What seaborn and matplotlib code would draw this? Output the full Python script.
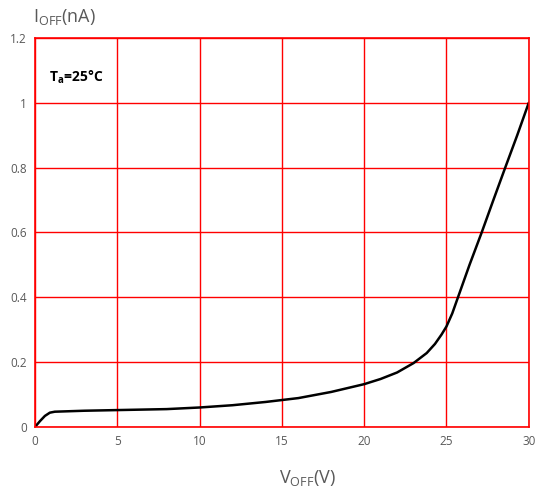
import numpy as np
import pandas as pd
import seaborn as sns
import matplotlib
matplotlib.use("Agg")
import matplotlib.pyplot as plt

# curve
v_off = [0, 0.3, 0.6, 0.9, 1.2, 3, 5, 8, 10, 12, 14, 16, 18, 20, 21, 22, 23,
         23.8, 24.3, 24.7, 25, 25.35, 25.7, 26.4, 27.14, 27.85, 28.57, 29.3, 30]
i_off = [0, 0.018, 0.034, 0.044, 0.047, 0.05, 0.052, 0.055, 0.06, 0.067, 0.077,
         0.089, 0.108, 0.132, 0.148, 0.168, 0.197, 0.228, 0.256, 0.285, 0.31,
         0.35, 0.4, 0.5, 0.6, 0.7, 0.8, 0.9, 1.0]
x_ticks = [0, 5, 10, 15, 20, 25, 30]
y_ticks = [0, 0.2, 0.4, 0.6, 0.8, 1, 1.2]
y_tick_labels = ["0", "0.2", "0.4", "0.6", "0.8", "1", "1.2"]

df = pd.DataFrame({"V_OFF": v_off, "I_OFF": i_off})

sns.set_style("white")
plt.rcParams['font.family'] = ['Open Sans', 'DejaVu Sans']

fig = plt.figure(figsize=(5.39, 4.93), dpi=100)
ax = fig.add_axes([0.065, 0.134, 0.916, 0.789])

sns.lineplot(data=df, x="V_OFF", y="I_OFF", ax=ax, color="black", linewidth=1.8)

ax.set_xlim(0, 30)
ax.set_ylim(0, 1.2)
ax.set_xticks(x_ticks)
ax.set_yticks(y_ticks)
ax.set_yticklabels(y_tick_labels)
ax.grid(True, color="#ff0000", linewidth=1.0)
ax.set_axisbelow(True)
for s in ax.spines.values():
    s.set_color("#ff0000")
    s.set_linewidth(1.2)
ax.tick_params(axis="both", length=0, labelsize=8.5, colors="#595959", pad=6)

ax.set_xlabel("")
ax.set_ylabel("")
fig.text(0.57, 0.03, r"V$_{\mathregular{OFF}}$(V)", ha="center", va="center",
         fontsize=13, color="#595959")
fig.text(0.062, 0.965, r"I$_{\mathregular{OFF}}$(nA)", ha="left", va="center",
         fontsize=13, color="#595959")
ax.text(0.028, 0.9, r"T$_\mathregular{a}$=25°C", transform=ax.transAxes,
        fontsize=10, fontweight="bold", color="black", va="center")

fig.savefig("out.png", dpi=100)
